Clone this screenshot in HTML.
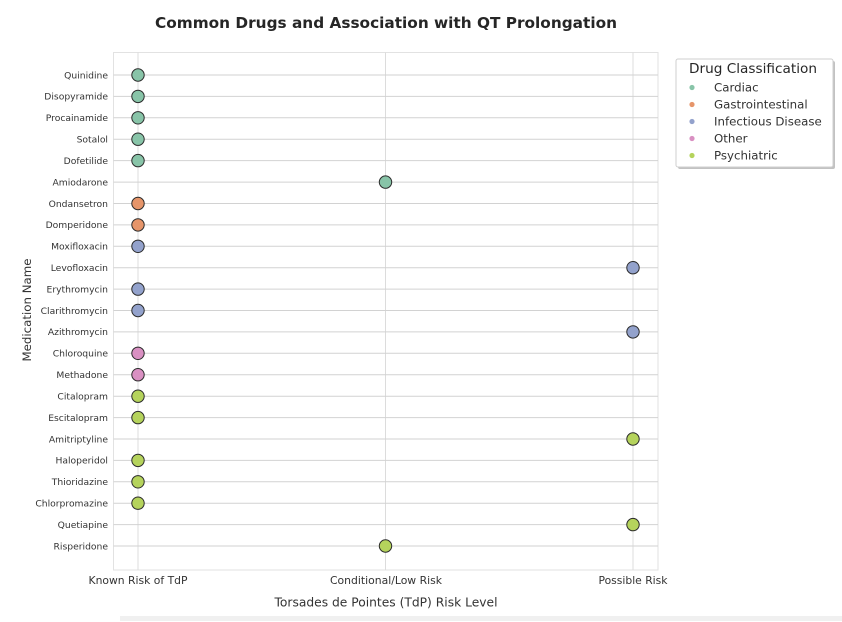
<!DOCTYPE html>
<html><head><meta charset="utf-8"><style>
html,body{margin:0;padding:0;background:#fff;}
svg{display:block;font-family:"DejaVu Sans","Liberation Sans",sans-serif;}
</style></head><body>
<svg width="842" height="622" viewBox="0 0 842 622" xmlns="http://www.w3.org/2000/svg">
<rect width="842" height="622" fill="#fff"/>
<text x="386" y="28" text-anchor="middle" font-size="15" font-weight="bold" fill="#262626" textLength="462" lengthAdjust="spacingAndGlyphs">Common Drugs and Association with QT Prolongation</text>
<!-- frame -->
<rect x="113.5" y="52.5" width="544.5" height="517.5" fill="#fff" stroke="#e2e2e2" stroke-width="1"/>
<!-- vertical grid -->
<g stroke="#dcdcdc" stroke-width="1">
<line x1="138" y1="52.5" x2="138" y2="570"/>
<line x1="385.5" y1="52.5" x2="385.5" y2="570"/>
<line x1="633" y1="52.5" x2="633" y2="570"/>
</g>
<!-- horizontal grid -->
<g stroke="#d2d2d2" stroke-width="1">
<line x1="113.5" x2="658" y1="75" y2="75"/>
<line x1="113.5" x2="658" y1="96.4" y2="96.4"/>
<line x1="113.5" x2="658" y1="117.8" y2="117.8"/>
<line x1="113.5" x2="658" y1="139.2" y2="139.2"/>
<line x1="113.5" x2="658" y1="160.6" y2="160.6"/>
<line x1="113.5" x2="658" y1="182.1" y2="182.1"/>
<line x1="113.5" x2="658" y1="203.5" y2="203.5"/>
<line x1="113.5" x2="658" y1="224.9" y2="224.9"/>
<line x1="113.5" x2="658" y1="246.3" y2="246.3"/>
<line x1="113.5" x2="658" y1="267.7" y2="267.7"/>
<line x1="113.5" x2="658" y1="289.1" y2="289.1"/>
<line x1="113.5" x2="658" y1="310.5" y2="310.5"/>
<line x1="113.5" x2="658" y1="331.9" y2="331.9"/>
<line x1="113.5" x2="658" y1="353.3" y2="353.3"/>
<line x1="113.5" x2="658" y1="374.7" y2="374.7"/>
<line x1="113.5" x2="658" y1="396.2" y2="396.2"/>
<line x1="113.5" x2="658" y1="417.6" y2="417.6"/>
<line x1="113.5" x2="658" y1="439.0" y2="439.0"/>
<line x1="113.5" x2="658" y1="460.4" y2="460.4"/>
<line x1="113.5" x2="658" y1="481.8" y2="481.8"/>
<line x1="113.5" x2="658" y1="503.2" y2="503.2"/>
<line x1="113.5" x2="658" y1="524.6" y2="524.6"/>
<line x1="113.5" x2="658" y1="546" y2="546"/>
</g>
<!-- y labels -->
<g font-size="9.2" fill="#333" text-anchor="end">
<text x="108" y="78.3">Quinidine</text>
<text x="108" y="99.7">Disopyramide</text>
<text x="108" y="121.1">Procainamide</text>
<text x="108" y="142.5">Sotalol</text>
<text x="108" y="163.9">Dofetilide</text>
<text x="108" y="185.4">Amiodarone</text>
<text x="108" y="206.8">Ondansetron</text>
<text x="108" y="228.2">Domperidone</text>
<text x="108" y="249.6">Moxifloxacin</text>
<text x="108" y="271">Levofloxacin</text>
<text x="108" y="292.4">Erythromycin</text>
<text x="108" y="313.8">Clarithromycin</text>
<text x="108" y="335.2">Azithromycin</text>
<text x="108" y="356.6">Chloroquine</text>
<text x="108" y="378">Methadone</text>
<text x="108" y="399.5">Citalopram</text>
<text x="108" y="420.9">Escitalopram</text>
<text x="108" y="442.3">Amitriptyline</text>
<text x="108" y="463.7">Haloperidol</text>
<text x="108" y="485.1">Thioridazine</text>
<text x="108" y="506.5">Chlorpromazine</text>
<text x="108" y="527.9">Quetiapine</text>
<text x="108" y="549.3">Risperidone</text>
</g>
<!-- markers -->
<g stroke="#2b2b2b" stroke-width="1">
<g fill="#88c4a8">
<circle cx="138" cy="75" r="6.2"/>
<circle cx="138" cy="96.4" r="6.2"/>
<circle cx="138" cy="117.8" r="6.2"/>
<circle cx="138" cy="139.2" r="6.2"/>
<circle cx="138" cy="160.6" r="6.2"/>
<circle cx="385.5" cy="182.1" r="6.2"/>
</g>
<g fill="#e6956a">
<circle cx="138" cy="203.5" r="6.2"/>
<circle cx="138" cy="224.9" r="6.2"/>
</g>
<g fill="#93a2cc">
<circle cx="138" cy="246.3" r="6.2"/>
<circle cx="633" cy="267.7" r="6.2"/>
<circle cx="138" cy="289.1" r="6.2"/>
<circle cx="138" cy="310.5" r="6.2"/>
<circle cx="633" cy="331.9" r="6.2"/>
</g>
<g fill="#d990c2">
<circle cx="138" cy="353.3" r="6.2"/>
<circle cx="138" cy="374.7" r="6.2"/>
</g>
<g fill="#b5d35c">
<circle cx="138" cy="396.2" r="6.2"/>
<circle cx="138" cy="417.6" r="6.2"/>
<circle cx="633" cy="439.0" r="6.2"/>
<circle cx="138" cy="460.4" r="6.2"/>
<circle cx="138" cy="481.8" r="6.2"/>
<circle cx="138" cy="503.2" r="6.2"/>
<circle cx="633" cy="524.6" r="6.2"/>
<circle cx="385.5" cy="546" r="6.2"/>
</g>
</g>
<!-- x tick labels -->
<g font-size="10.5" fill="#333" text-anchor="middle">
<text x="138" y="584" textLength="99" lengthAdjust="spacingAndGlyphs">Known Risk of TdP</text>
<text x="386" y="584" textLength="112" lengthAdjust="spacingAndGlyphs">Conditional/Low Risk</text>
<text x="633" y="584" textLength="69" lengthAdjust="spacingAndGlyphs">Possible Risk</text>
</g>
<text x="386" y="606.5" font-size="12" fill="#333" text-anchor="middle" textLength="223" lengthAdjust="spacingAndGlyphs">Torsades de Pointes (TdP) Risk Level</text>
<text transform="translate(31,310) rotate(-90)" font-size="11.8" fill="#333" text-anchor="middle">Medication Name</text>
<!-- legend -->
<rect x="678" y="61" width="157" height="108" rx="2" fill="#9a9a9a" opacity="0.6"/>
<rect x="676" y="59" width="157" height="108" rx="2" fill="#fff" stroke="#cfcfcf" stroke-width="1"/>
<text x="753" y="73" font-size="13.6" fill="#262626" text-anchor="middle" textLength="128" lengthAdjust="spacingAndGlyphs">Drug Classification</text>
<g font-size="11.8" fill="#333">
<circle cx="692" cy="87.5" r="2.6" fill="#88c4a8"/>
<text x="714" y="91.5">Cardiac</text>
<circle cx="692" cy="104.5" r="2.6" fill="#e6956a"/>
<text x="714" y="108.5">Gastrointestinal</text>
<circle cx="692" cy="121.5" r="2.6" fill="#93a2cc"/>
<text x="714" y="125.5">Infectious Disease</text>
<circle cx="692" cy="138.5" r="2.6" fill="#d990c2"/>
<text x="714" y="142.5">Other</text>
<circle cx="692" cy="155.5" r="2.6" fill="#b5d35c"/>
<text x="714" y="159.5">Psychiatric</text>
</g>
<!-- faint bottom strip -->
<rect x="120" y="616" width="722" height="5" fill="#f0f0f0"/>
</svg>
</body></html>
